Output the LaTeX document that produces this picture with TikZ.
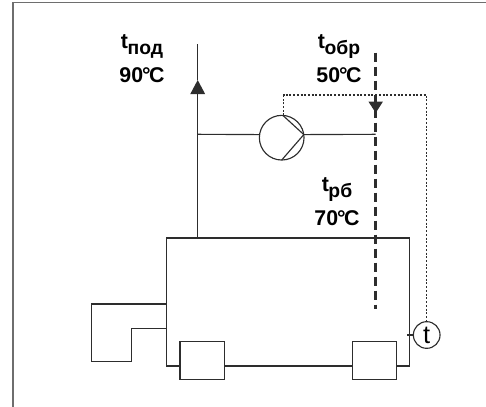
\documentclass[tikz,border=0pt]{standalone}
\usepackage{fontspec}
\setmainfont{Liberation Sans}
\usepackage{xcolor}
\usepackage{tikz}
\usetikzlibrary{arrows.meta,calc}
\definecolor{PipeGray}{RGB}{45,45,45}
\definecolor{FrameGray}{RGB}{110,110,110}
\newcommand{\tsub}[1]{t\kern-0.02em\raisebox{-0.3em}{\fontsize{14.5}{15}\selectfont #1}}
\newcommand{\degC}[1]{#1\kern-0.05em°\kern-0.07em C}

\begin{document}
\begin{tikzpicture}[
 x=0.75pt, y=-0.75pt,
 pipe/.style={draw=PipeGray, line width=0.85pt},
 retpipe/.style={draw=PipeGray, line width=2.3pt, dash pattern=on 6.6pt off 3.9pt},
 sigline/.style={draw=PipeGray, line width=0.85pt, dash pattern=on 1.5pt off 1.3pt},
 flowup/.style={-{Triangle[length=10.6pt,width=11pt]}, draw=PipeGray, fill=PipeGray, line width=0.85pt},
 flowdown/.style={-{Triangle[length=8.4pt,width=10.6pt]}, draw=PipeGray, fill=PipeGray, line width=0.85pt},
 boilerbox/.style={pipe, minimum width=182.1pt, minimum height=96pt, inner sep=0pt, outer sep=0pt},
 pumpbox/.style={pipe, circle, minimum size=33.5pt, inner sep=0pt, outer sep=0pt},
 sensorbox/.style={pipe, circle, minimum size=20pt, inner sep=0pt, outer sep=0pt, font=\fontsize{19}{19}\selectfont},
 auxbox/.style={pipe, fill=white, minimum width=33.4pt, minimum height=28.2pt, inner sep=0pt, outer sep=0pt},
 templabel/.style={align=center, inner sep=0pt, font=\fontsize{16}{26}\selectfont\bfseries}
]
\useasboundingbox (0,0) rectangle (486,407);
\draw[draw=FrameGray, line width=1.1pt] (13,407) -- (13,2.5) -- (486,2.5);

\node[boilerbox] (boiler) at (288.2,302) {};
\node[auxbox] (auxleft) at (202.2,360.5) {};
\node[auxbox] (auxright) at (374.4,360.5) {};
\node[pumpbox] (pump) at (281.7,137.7) {};
\node[sensorbox] (sensor) at (426.7,335) {t};

\node[templabel] (tpod) at (142,58.5) {\tsub{под}\\\degC{90}};
\node[templabel] (tobr) at (339,58.5) {\tsub{обр}\\\degC{50}};
\node[templabel] (trb) at (337,201.5) {\tsub{рб}\\\degC{70}};

\coordinate (supplytop) at (197.7,43.7);
\coordinate (supplytip) at (197.7,80);
\coordinate (tee) at (197.7,134.3);
\coordinate (rettop) at (375.7,52.7);
\coordinate (retjoin) at (375.7,134.3);
\coordinate (retend) at (375.7,309);
\coordinate (retbase) at (375.7,101.7);
\coordinate (rettip) at (375.7,112.9);
\coordinate (sigtop) at (360,95);
\coordinate (sensorstub) at (407.3,335);

\draw[pipe] (supplytip) -- (supplytop);
\draw[flowup] (supplytip |- boiler.north) -- (supplytip);
\draw[pipe] (tee) -- (pump.172);
\draw[pipe] (pump.8) -- (retjoin);
\draw[pipe] (pump.87) -- (pump.8) -- (pump.-90);
\draw[retpipe] (rettop) -- (retend);
\draw[flowdown] (retbase) -- (rettip);
\draw[sigline] (pump.85) |- (sigtop) -| (sensor.north);
\draw[pipe] (sensorstub) -- (sensor.west);

% burner
\draw[pipe] (166.7,304) -- (91.7,304) -- (91.7,361.7) -- (131.7,361.7) -- (131.7,328.3) -- (166.7,328.3);
\end{tikzpicture}
\end{document}
